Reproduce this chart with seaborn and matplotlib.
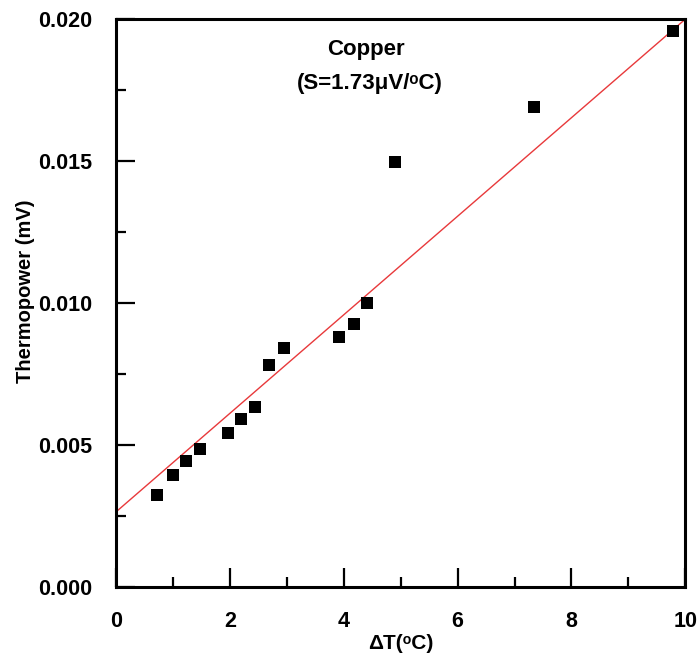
import numpy as np
import pandas as pd
import matplotlib
matplotlib.use('Agg')
import matplotlib.pyplot as plt
import seaborn as sns
from matplotlib.ticker import MultipleLocator

# --- DATA ---
delta_t = [0.72, 0.99, 1.23, 1.48, 1.96, 2.20, 2.44, 2.69, 2.95,
           3.91, 4.17, 4.41, 4.90, 7.34, 9.78]
thermopower = [0.00324, 0.00394, 0.00444, 0.00485, 0.00543, 0.00593, 0.00633,
               0.00782, 0.00842, 0.00881, 0.00928, 0.01001, 0.01498, 0.01691,
               0.01959]

fit_intercept = 0.00265
fit_slope = 0.001735
fit_x = [0, 10]

df = pd.DataFrame({'dT': delta_t, 'V': thermopower})
fit = pd.DataFrame({'dT': fit_x})
fit['V'] = fit_intercept + fit_slope * fit['dT']

# --- STYLE ---
sns.set_style('white')
plt.rcParams['font.family'] = ['Liberation Sans', 'DejaVu Sans']
plt.rcParams['font.weight'] = 'bold'
plt.rcParams['text.color'] = 'black'
plt.rcParams['axes.labelcolor'] = 'black'
plt.rcParams['xtick.color'] = 'black'
plt.rcParams['ytick.color'] = 'black'

fig = plt.figure(figsize=(7, 6.61), dpi=100)
ax = fig.add_axes([0.166, 0.112, 0.813, 0.859])

sns.lineplot(data=fit, x='dT', y='V', ax=ax, color='#e8393b', linewidth=1.0)
sns.scatterplot(data=df, x='dT', y='V', ax=ax, marker='s', s=80,
                color='black', edgecolor='black', linewidth=0, zorder=3)

ax.set_xlim(0, 10)
ax.set_ylim(0, 0.020)
ax.xaxis.set_major_locator(MultipleLocator(2))
ax.xaxis.set_minor_locator(MultipleLocator(1))
ax.yaxis.set_major_locator(MultipleLocator(0.005))
ax.yaxis.set_minor_locator(MultipleLocator(0.0025))
ax.yaxis.set_major_formatter(matplotlib.ticker.FormatStrFormatter('%.3f'))

ax.tick_params(which='both', direction='in', width=1.6,
               bottom=True, left=True, top=False, right=False)
ax.tick_params(which='major', length=14, labelsize=15.5, pad=17)
ax.tick_params(which='minor', length=7)
for lbl in ax.get_xticklabels() + ax.get_yticklabels():
    lbl.set_fontweight('bold')

for sp in ax.spines.values():
    sp.set_linewidth(2.2)
    sp.set_color('black')

ax.set_xlabel('ΔT(ᵒC)', fontsize=15, fontweight='bold', labelpad=2)
ax.set_ylabel('Thermopower (mV)', fontsize=14.5, fontweight='bold')
ax.yaxis.set_label_coords(-0.143, 0.52)

ax.text(0.438, 0.947, 'Copper', transform=ax.transAxes, ha='center', va='center',
        fontsize=16, fontweight='bold')
ax.text(0.446, 0.886, '(S=1.73μV/ᵒC)', transform=ax.transAxes,
        ha='center', va='center', fontsize=16, fontweight='bold')

fig.savefig('out.png', dpi=100, facecolor='white')
plt.close(fig)
